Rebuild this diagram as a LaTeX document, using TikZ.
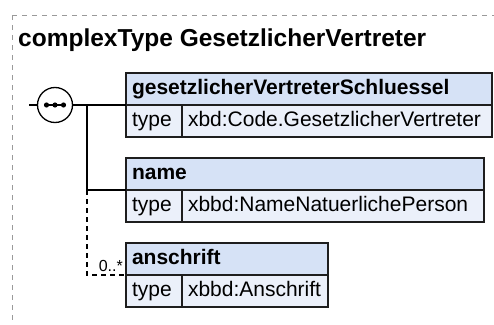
\documentclass[tikz,border=0pt]{standalone}
\usepackage{fontspec}
\setmainfont{Liberation Sans}
\definecolor{bordercol}{HTML}{1E1E1E}
\definecolor{hdrfill}{HTML}{D6E2F6}
\definecolor{typefill}{HTML}{EBF0FA}
\definecolor{framecol}{HTML}{9A9A9A}
\tikzset{
  cell/.style={draw=bordercol, line width=1.6pt, anchor=north west, inner xsep=6pt, inner ysep=0pt,
    outer sep=0pt, text height=15pt, text depth=4.5pt, align=left},
  hdrcell/.style={cell, fill=hdrfill, minimum height=32pt, font=\bfseries\fontsize{21}{24}\selectfont},
  typecell/.style={cell, fill=typefill, minimum height=32pt, font=\fontsize{21}{24}\selectfont},
  conn/.style={draw=black, line width=1.3pt},
  optconn/.style={conn, dash pattern=on 5pt off 4pt},
}
\begin{document}
\begin{tikzpicture}[x=1pt, y=-1pt]
\clip (0,0) rectangle (494,324);
\fill[white] (0,0) rectangle (494,324);
% frame
\draw[framecol, line width=1pt, dash pattern=on 5pt off 5pt] (12,15) -- (520,15);
\draw[framecol, line width=1pt, dash pattern=on 5pt off 5pt] (12,15) -- (12,340);
% title
\node[anchor=base west, inner sep=0pt, font=\bfseries\fontsize{24.5}{28}\selectfont] (title) at (18,46.5) {complexType GesetzlicherVertreter};

% box 1
\node[hdrcell, text width=354pt] (h1) at (126,73) {gesetzlicherVertreterSchluessel};
\node[typecell, text width=44pt] (t1) at (126,105) {type};
\node[typecell, text width=298pt] (v1) at (182,105) {xbd:Code.GesetzlicherVertreter};
% box 2
\node[hdrcell, text width=346pt] (h2) at (126,158) {name};
\node[typecell, text width=44pt] (t2) at (126,190) {type};
\node[typecell, text width=290pt] (v2) at (182,190) {xbbd:NameNatuerlichePerson};
% box 3
\node[hdrcell, text width=190pt] (h3) at (126,243) {anschrift};
\node[typecell, text width=44pt] (t3) at (126,275) {type};
\node[typecell, text width=134pt] (v3) at (182,275) {xbbd:Anschrift};

% sequence compositor
\node[circle, draw=black, line width=1.3pt, fill=white, minimum size=35pt, inner sep=0pt, outer sep=0pt] (seq) at (55,105) {};
\draw[line width=1.3pt] (46.5,105) -- (63.5,105);
\fill (46.5,105) circle (2.6pt);
\fill (55,105) circle (2.6pt);
\fill (63.5,105) circle (2.6pt);

% connectors
\coordinate (lead) at (29,105);
\coordinate (br) at (87,105);
\draw[conn] (lead) -- (seq.west);
\draw[conn] (seq.east) -- (h1.south west);
\draw[conn] (br) |- (h2.south west);
\draw[optconn] (br |- h2.south west) |- (h3.south west);

% multiplicity
\node[anchor=base east, inner sep=0pt, font=\fontsize{16}{18}\selectfont] (mult) at (123,271.5) {0..*};
\end{tikzpicture}
\end{document}
